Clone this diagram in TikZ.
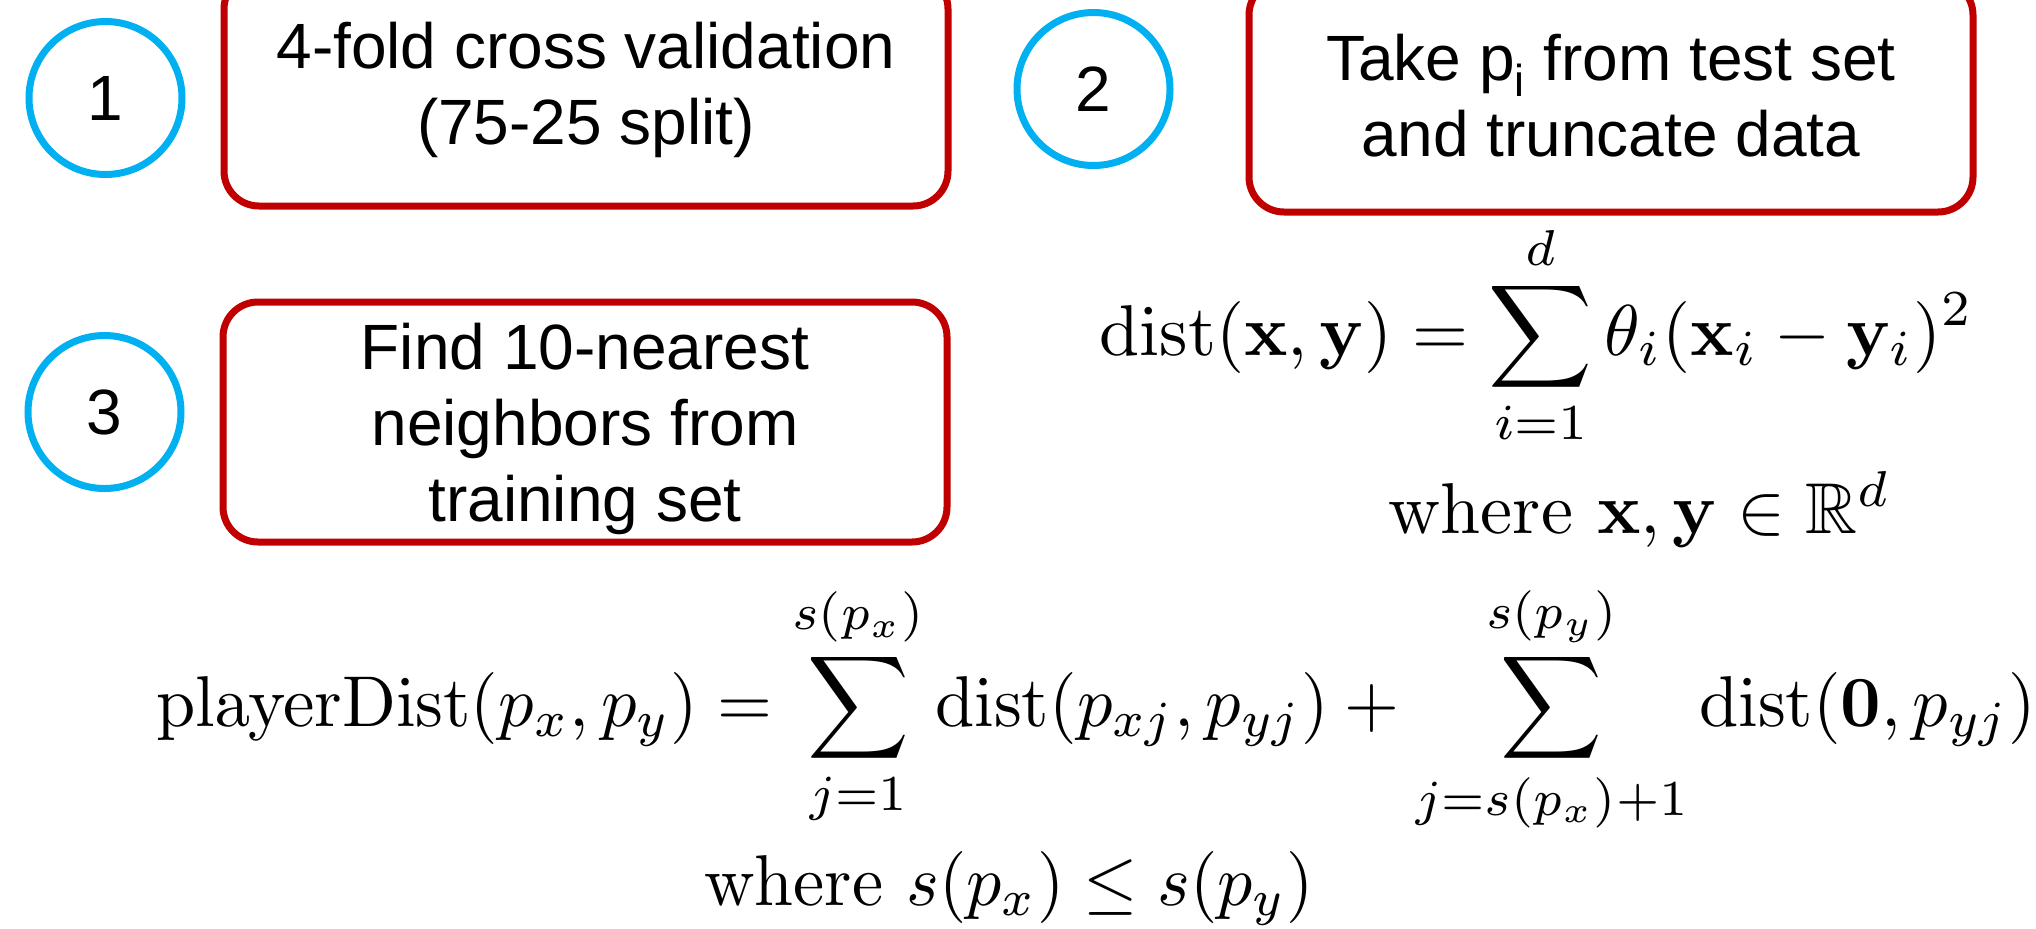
\documentclass[tikz,border=0pt]{standalone}
\usepackage{amsmath}
\usepackage{amssymb}
\usepackage[no-math]{fontspec}
\newfontfamily\boxfont{Liberation Sans}
\usetikzlibrary{positioning}
\definecolor{stepblue}{HTML}{00B0F0}
\definecolor{boxred}{HTML}{C00000}

\begin{document}
\begin{tikzpicture}[
  x=0.5pt, y=-0.5pt,
  stepnum/.style={
    circle,
    draw=stepblue,
    line width=3.5pt,
    minimum size=76.5pt,
    inner sep=0pt,
    font=\boxfont\fontsize{32}{39}\selectfont
  },
  stepbox/.style={
    draw=boxred,
    rounded corners=17.5pt,
    line width=3.5pt,
    minimum width=362pt,
    minimum height=#1,
    align=center,
    inner sep=0pt,
    font=\boxfont\fontsize{32}{38}\selectfont
  },
  stepbox/.default=116pt,
  eqn/.style={anchor=base, inner sep=0pt}
]
\useasboundingbox (0,0) rectangle (2036,928);
\clip (0,0) rectangle (2036,928);

% ===== Step boxes =====
\node[stepbox]       (b1) at (586,90)  {4-fold cross validation\\(75-25 split)};
\node[stepbox]       (b2) at (1611,96) {Take p\textsubscript{i} from test set\\and truncate data};
\node[stepbox=120pt, text depth=0pt] (b3) at (585,422) {Find 10-nearest\\neighbors from\\training set};

% ===== Step numbers =====
\node[stepnum, left=17.5pt of b1, yshift=-4pt]  (c1) {1};
\node[stepnum, left=36pt of b2, yshift=3.5pt]   (c2) {2};
\node[stepnum, left=17.5pt of b3, yshift=5pt]   (c3) {3};

% ===== Distance formulas =====
\node[eqn] (dist) at (1537,355)
  {\scalebox{3.6}{$\displaystyle \mathrm{dist}(\mathbf{x},\mathbf{y}) = \sum_{i=1}^{d}\theta_i(\mathbf{x}_i-\mathbf{y}_i)^2$}};
\node[eqn] (distwhere) at (1640,533)
  {\scalebox{3.6}{where $\mathbf{x},\mathbf{y}\in\mathbb{R}^d$}};

\node[eqn] (pdist) at (1096,726)
  {\scalebox{3.53}[3.6]{$\displaystyle \mathrm{playerDist}(p_x,p_y) = \sum_{j=1}^{s(p_x)}\mathrm{dist}(p_{xj},p_{yj}) + \sum_{j=s(p_x)+1}^{s(p_y)}\mathrm{dist}(\mathbf{0},p_{yj})$}};
\node[eqn] (pdistwhere) at (1009,905)
  {\scalebox{3.5}[3.6]{where $s(p_x)\leq s(p_y)$}};

\end{tikzpicture}
\end{document}
